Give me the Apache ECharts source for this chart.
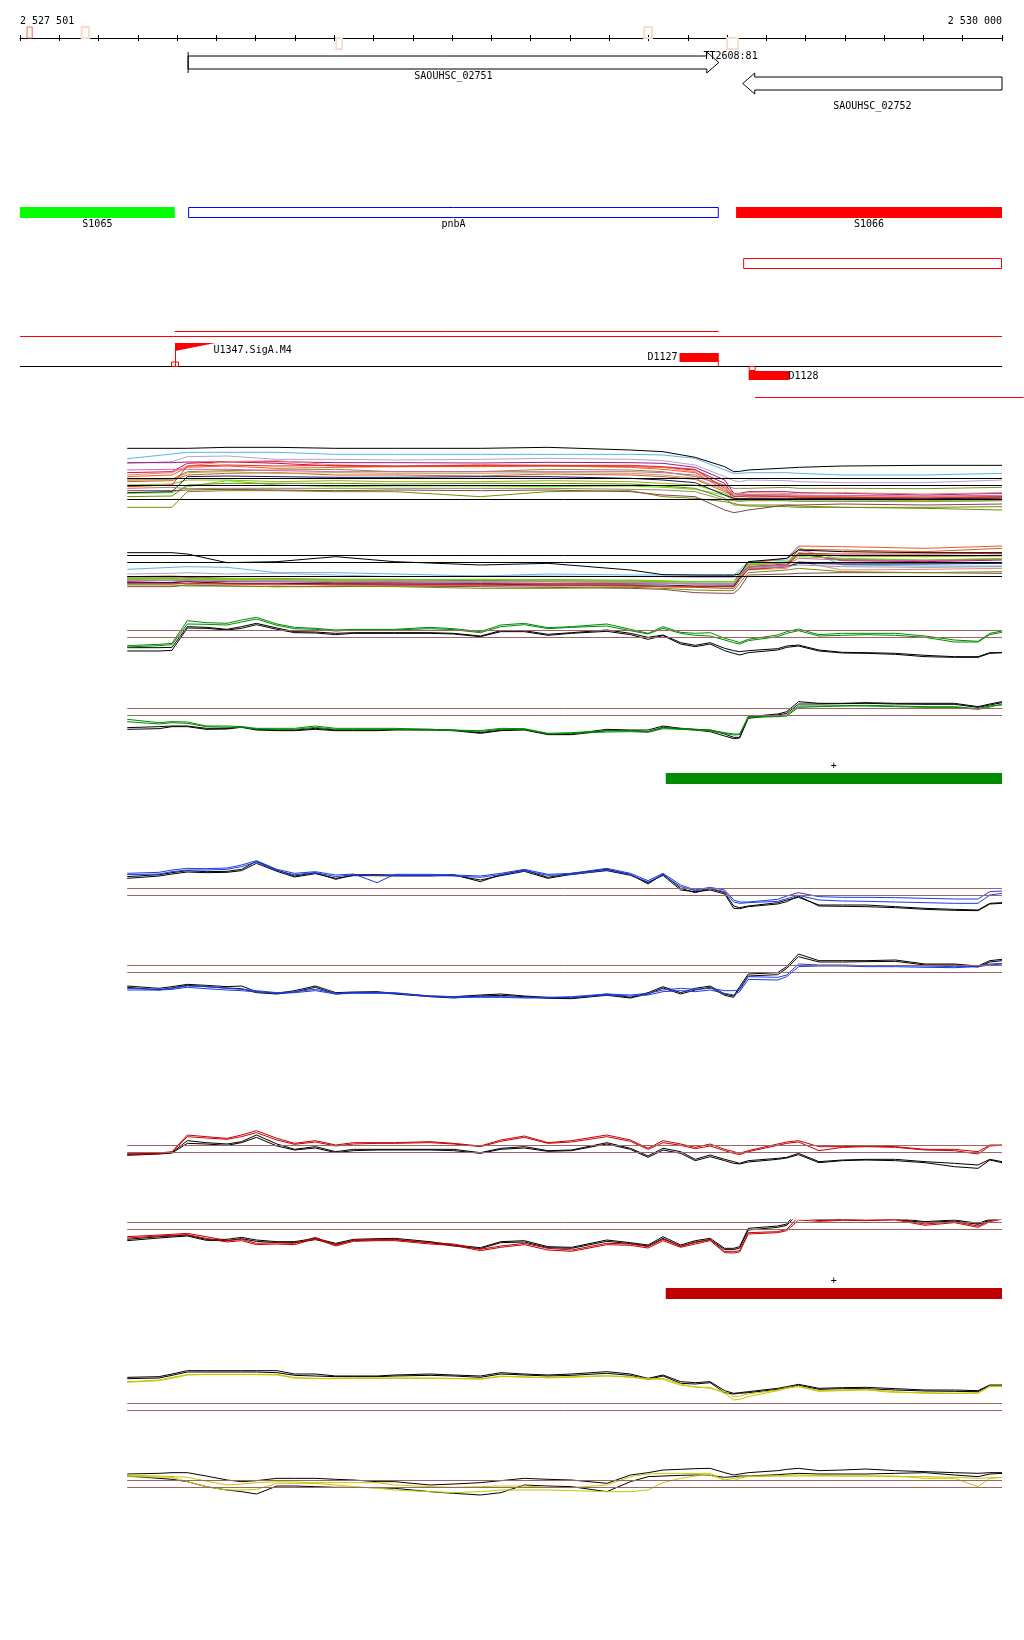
<!DOCTYPE html>
<html><head><meta charset="utf-8">
<script src="https://cdn.jsdelivr.net/npm/echarts/dist/echarts.min.js"></script>
<style>html,body{margin:0;padding:0;background:#fff}#c{width:1024px;height:1640px}</style>
</head><body><div id="c"></div>
<script>
// ---------------- DATA ----------------
const regionStart = 2527500, regionEnd = 2530000;
const rulerLabels = ['2 527 501', '2 530 000'];
const rulerTickStep = 100;
const rulerMarkStart = [2527518, 2527657, 2528305, 2529089, 2529300];
const rulerMarkEnd   = [2527531, 2527676, 2528320, 2529109, 2529328];
const rulerMarkSide  = [1, 1, -1, 1, -1];

const geneNames  = ['SAOUHSC_02751', 'SAOUHSC_02752'];
const geneStart  = [2527928, 2529340];
const geneEnd    = [2529279, 2530000];
const geneStrand = [1, -1];

const termNames = ['TT2608:81'];
const termPos   = [2529240];

const segNames = ['S1065', 'pnbA', 'S1066'];
const segStart = [2527500, 2527928, 2529323];
const segEnd   = [2527894, 2529279, 2530000];

const boxStart = [2529341];
const boxEnd   = [2530000];

const hLineStart = [2527894, 2527500, 2527500, 2529371];
const hLineEnd   = [2529279, 2530000, 2530000, 2530055];

const promoterNames = ['U1347.SigA.M4'];
const promoterPos   = [2527894];

const siteNames  = ['D1127', 'D1128'];
const siteStart  = [2529179, 2529355];
const siteEnd    = [2529279, 2529459];
const siteStrand = [1, -1];

const condStart  = [2529144];
const condEnd    = [2530000];
const condStrand = ['+'];

// sampling positions (bp)
const pos = [2527773, 2527854, 2527887, 2527926, 2527974, 2528027, 2528064, 2528102, 2528154, 2528199,
  2528252, 2528304, 2528349, 2528409, 2528454, 2528544, 2528604, 2528672, 2528724, 2528784,
  2528844, 2528904, 2528994, 2529054, 2529099, 2529137, 2529182, 2529219, 2529257, 2529294,
  2529317, 2529332, 2529354, 2529429, 2529452, 2529482, 2529534, 2529594, 2529654, 2529729,
  2529804, 2529879, 2529939, 2529969, 2530000];
const multiPos = [2527773, 2527887, 2527926, 2528027, 2528154, 2528304, 2528454, 2528672, 2528844, 2529054,
  2529137, 2529219, 2529294, 2529317, 2529332, 2529354, 2529452, 2529482, 2529594, 2529804, 2530000];

// track 1 : all conditions, + strand
const track1 = {
  ltblue:   [-86,-72,-67,-67,-67,-73,-73,-73,-73,-73,-75,-85,-120,-130,-130,-128,-128,-130,-135,-135,-130],
  lavender: [-100,-95,-80,-78,-88,-88,-90,-88,-85,-88,-92,-105,-140,-152,-155,-150,-152,-155,-158,-158,-150],
  purple:   [-98,-98,-96,-96,-95,-98,-98,-99,-97,-98,-100,-112,-150,-190,-190,-185,-185,-188,-190,-195,-190],
  crimson:  [-128,-125,-100,-95,-100,-108,-110,-108,-108,-110,-112,-120,-160,-200,-198,-196,-198,-200,-202,-205,-200],
  salmon:   [-135,-128,-108,-95,-92,-105,-108,-104,-106,-108,-112,-125,-170,-190,-192,-188,-190,-192,-188,-192,-188],
  orange:   [-140,-135,-112,-108,-115,-112,-110,-110,-108,-112,-118,-128,-180,-205,-208,-204,-205,-206,-206,-208,-205],
  olive:    [-150,-148,-125,-122,-120,-118,-125,-125,-118,-120,-125,-140,-165,-175,-175,-175,-172,-175,-175,-176,-172],
  brown:    [-155,-152,-135,-130,-128,-135,-135,-138,-132,-135,-140,-148,-185,-198,-200,-198,-198,-200,-200,-204,-200],
  tan:      [-150,-150,-128,-125,-130,-128,-130,-130,-128,-130,-135,-145,-180,-195,-196,-195,-196,-198,-198,-200,-198],
  ygreen:   [-165,-162,-150,-150,-155,-152,-155,-155,-152,-155,-160,-165,-190,-205,-208,-208,-208,-210,-210,-212,-208],
  green:    [-190,-188,-170,-152,-165,-170,-168,-168,-170,-168,-172,-178,-195,-210,-212,-212,-212,-214,-214,-214,-212],
  dkolive:  [-200,-198,-165,-160,-160,-160,-162,-160,-160,-162,-168,-175,-205,-225,-225,-228,-230,-232,-232,-232,-230],
  olive2:   [-232,-232,-185,-182,-182,-185,-185,-200,-185,-182,-200,-205,-215,-220,-225,-225,-225,-228,-232,-235,-240],
  dkbrown:  [-182,-182,-180,-178,-180,-182,-180,-182,-180,-185,-195,-200,-240,-248,-245,-240,-225,-225,-222,-225,-222],
  navy:     [-188,-185,-140,-138,-140,-142,-142,-140,-140,-145,-150,-158,-195,-205,-206,-205,-205,-205,-206,-206,-204],
  magenta:  [-120,-118,-118,-118,-122,-125,-125,-125,-125,-125,-128,-135,-170,-192,-194,-194,-194,-196,-196,-198,-196],
  red:      [-170,-165,-108,-105,-108,-106,-108,-106,-106,-106,-110,-118,-175,-200,-200,-198,-200,-202,-202,-204,-200],
  graybrown:[-175,-172,-176,-175,-175,-175,-175,-175,-175,-178,-180,-185,-210,-212,-214,-212,-212,-214,-214,-215,-212],
  black:    [-55,-55,-55,-52,-52,-55,-55,-55,-52,-60,-65,-82,-110,-125,-124,-120,-114,-112,-108,-106,-106]
};
const track1Levels = [-145, -166, -208];

// track 2 : all conditions, - strand
const track2 = {
  ltblue:   [-418,-412,-410,-412,-428,-428,-432,-438,-432,-435,-435,-435,-436,-436,-420,-395,-390,-352,-405,-408,-408],
  lavender: [-432,-430,-428,-432,-430,-435,-440,-438,-438,-440,-440,-442,-442,-442,-425,-405,-398,-360,-388,-390,-388],
  purple:   [-445,-445,-442,-448,-448,-450,-450,-452,-450,-452,-455,-455,-455,-455,-435,-410,-402,-370,-392,-395,-390],
  crimson:  [-455,-458,-452,-455,-455,-458,-458,-460,-460,-460,-460,-462,-462,-462,-440,-412,-405,-372,-390,-392,-388],
  salmon:   [-440,-440,-445,-448,-448,-450,-452,-448,-450,-455,-460,-462,-465,-465,-445,-420,-415,-395,-420,-418,-415],
  orange:   [-450,-452,-455,-460,-462,-460,-462,-465,-465,-465,-470,-470,-470,-470,-440,-400,-385,-348,-350,-355,-348],
  olive:    [-440,-438,-440,-445,-445,-448,-448,-450,-450,-452,-455,-455,-455,-455,-430,-405,-398,-372,-378,-380,-375],
  brown:    [-460,-460,-462,-462,-465,-462,-465,-465,-468,-468,-470,-470,-470,-470,-445,-410,-405,-358,-360,-365,-355],
  tan:      [-448,-450,-448,-448,-450,-452,-455,-455,-452,-455,-458,-460,-460,-460,-438,-415,-410,-395,-402,-400,-398],
  ygreen:   [-442,-442,-445,-445,-448,-448,-448,-450,-450,-450,-452,-455,-455,-455,-432,-405,-398,-368,-378,-380,-378],
  green:    [-445,-446,-448,-448,-450,-450,-450,-448,-450,-452,-455,-455,-455,-455,-430,-402,-395,-380,-385,-390,-385],
  navy:     [-458,-458,-455,-460,-460,-462,-462,-462,-465,-465,-465,-468,-468,-468,-445,-418,-410,-400,-402,-402,-400],
  magenta:  [-452,-450,-450,-452,-455,-455,-455,-458,-455,-458,-460,-460,-462,-462,-440,-412,-405,-385,-390,-392,-388],
  dkbrown:  [-470,-470,-465,-468,-470,-470,-468,-470,-472,-475,-478,-488,-490,-490,-475,-435,-432,-430,-428,-428,-430],
  red:      [-462,-462,-460,-462,-462,-465,-465,-465,-465,-468,-470,-472,-475,-475,-450,-418,-410,-370,-372,-372,-370],
  graybl:   [-450,-452,-452,-452,-452,-455,-452,-455,-455,-458,-460,-460,-462,-462,-442,-415,-410,-405,-410,-412,-410],
  olive2:   [-465,-465,-468,-468,-470,-468,-470,-475,-475,-472,-475,-480,-482,-482,-460,-428,-420,-415,-425,-428,-425],
  black:    [-368,-368,-372,-398,-395,-380,-395,-405,-400,-420,-434,-435,-435,-435,-432,-395,-385,-360,-365,-368,-368]
};
const track2Levels = [-376, -397, -440];

// track 3/4 : condition "green"
const t3Black1 = [-143,-143,-142,-80,-82,-88,-80,-70,-84,-95,-96,-100,-98,-98,-98,-98,-100,-108,-92,-92,-103,-98,-90,-100,-112,-105,-128,-136,-128,-145,-152,-155,-152,-146,-138,-135,-150,-157,-158,-160,-166,-170,-170,-158,-158];
const t3Black2 = [-153,-153,-151,-84,-85,-90,-85,-74,-88,-98,-99,-104,-100,-100,-100,-100,-102,-110,-95,-95,-106,-100,-94,-104,-118,-107,-132,-140,-132,-152,-160,-165,-158,-150,-142,-138,-153,-159,-160,-163,-170,-172,-172,-160,-158];
const t3Col1 = [-137,-133,-130,-62,-68,-70,-60,-52,-72,-82,-85,-90,-88,-88,-88,-82,-86,-95,-75,-70,-83,-80,-72,-88,-100,-80,-97,-100,-98,-115,-122,-128,-118,-105,-95,-87,-104,-100,-100,-100,-108,-120,-124,-100,-93];
const t3Col2 = [-141,-137,-134,-72,-73,-75,-66,-57,-76,-86,-88,-93,-90,-90,-90,-86,-89,-98,-80,-74,-86,-82,-78,-92,-102,-85,-100,-106,-108,-120,-128,-132,-122,-110,-100,-92,-108,-106,-104,-106,-112,-126,-126,-104,-97];
const t3Levels = [-90, -112];
const t4Black1 = [-383,-380,-378,-378,-385,-385,-380,-388,-390,-390,-385,-390,-390,-390,-388,-388,-390,-398,-390,-388,-402,-402,-388,-390,-390,-378,-385,-388,-390,-402,-412,-412,-350,-342,-335,-305,-310,-310,-308,-310,-310,-310,-320,-312,-305];
const t4Black2 = [-388,-386,-380,-380,-388,-387,-382,-390,-392,-392,-388,-392,-392,-392,-390,-390,-392,-400,-392,-390,-404,-404,-392,-392,-395,-382,-387,-390,-395,-408,-416,-414,-355,-345,-340,-312,-312,-311,-310,-312,-313,-313,-322,-315,-308];
const t4Col1 = [-358,-368,-365,-366,-378,-378,-380,-385,-385,-385,-378,-385,-385,-385,-385,-388,-390,-392,-385,-386,-400,-398,-392,-392,-395,-383,-385,-388,-390,-398,-402,-402,-350,-348,-345,-318,-318,-317,-316,-318,-320,-320,-326,-318,-315];
const t4Col2 = [-365,-372,-368,-370,-380,-382,-382,-387,-388,-388,-382,-388,-388,-388,-388,-390,-392,-394,-388,-388,-402,-400,-396,-395,-397,-386,-388,-390,-393,-400,-405,-404,-352,-350,-348,-322,-320,-318,-318,-320,-322,-322,-328,-321,-312];
const t4Levels = [-325, -346];

// track 5/6 : condition "blue"
const t5Black1 = [-110,-104,-98,-92,-95,-94,-88,-64,-90,-108,-98,-118,-104,-104,-105,-106,-104,-125,-104,-90,-112,-100,-88,-103,-132,-102,-145,-158,-146,-158,-198,-203,-198,-188,-180,-172,-195,-195,-195,-200,-205,-208,-210,-190,-188];
const t5Black2 = [-115,-108,-102,-96,-98,-97,-92,-70,-94,-111,-101,-115,-107,-107,-108,-108,-106,-120,-107,-94,-115,-103,-92,-106,-128,-106,-150,-155,-150,-162,-205,-206,-200,-192,-185,-168,-198,-199,-200,-203,-208,-211,-212,-192,-190];
const t5Col1 = [-100,-97,-90,-85,-86,-84,-75,-62,-88,-100,-95,-105,-102,-128,-103,-103,-105,-108,-100,-88,-103,-100,-85,-100,-122,-100,-135,-150,-142,-150,-180,-186,-186,-178,-168,-158,-170,-172,-172,-173,-175,-177,-177,-155,-153];
const t5Col2 = [-104,-102,-95,-90,-90,-88,-80,-66,-92,-104,-98,-110,-104,-106,-106,-106,-108,-112,-104,-92,-106,-104,-90,-104,-126,-104,-140,-152,-146,-155,-186,-190,-188,-184,-176,-166,-180,-183,-184,-186,-188,-190,-190,-165,-160];
const t5Levels = [-145, -166];
const t6Black1 = [-438,-445,-440,-433,-436,-440,-438,-455,-460,-452,-438,-458,-456,-455,-460,-468,-470,-465,-462,-468,-472,-474,-462,-472,-458,-440,-458,-445,-438,-462,-468,-440,-402,-398,-380,-342,-362,-362,-362,-360,-372,-372,-378,-362,-358];
const t6Black2 = [-442,-450,-444,-436,-440,-444,-446,-458,-462,-456,-442,-462,-458,-458,-462,-470,-474,-468,-466,-470,-475,-476,-466,-474,-462,-444,-462,-450,-442,-466,-472,-446,-408,-404,-385,-350,-366,-366,-365,-364,-375,-375,-381,-366,-362];
const t6Col1 = [-445,-448,-445,-438,-440,-445,-448,-452,-458,-455,-448,-460,-458,-458,-458,-468,-470,-470,-470,-472,-472,-470,-462,-465,-460,-450,-445,-448,-445,-452,-452,-450,-410,-412,-405,-372,-375,-375,-377,-377,-378,-380,-378,-372,-370];
const t6Col2 = [-450,-450,-448,-442,-446,-450,-452,-456,-460,-458,-452,-462,-460,-460,-460,-470,-472,-472,-472,-474,-474,-472,-465,-468,-465,-455,-452,-455,-450,-460,-465,-455,-418,-420,-410,-380,-378,-378,-380,-380,-382,-383,-380,-375,-372];
const t6Levels = [-376, -397];

// track 7/8 : condition "red"
const t7Black1 = [-103,-100,-98,-62,-68,-72,-65,-45,-72,-88,-80,-95,-88,-88,-88,-88,-88,-98,-85,-80,-92,-90,-68,-85,-108,-85,-95,-118,-105,-118,-125,-130,-122,-115,-112,-100,-125,-120,-118,-118,-125,-130,-135,-118,-125];
const t7Black2 = [-106,-102,-99,-70,-72,-76,-68,-52,-78,-90,-84,-98,-92,-90,-90,-90,-92,-100,-88,-84,-94,-92,-72,-88,-112,-90,-100,-122,-110,-122,-130,-132,-126,-118,-114,-104,-128,-122,-120,-122,-128,-140,-145,-120,-128];
const t7Col1 = [-100,-99,-95,-45,-50,-55,-45,-32,-55,-70,-62,-75,-68,-68,-68,-65,-70,-78,-60,-48,-68,-62,-45,-60,-85,-62,-72,-82,-72,-88,-95,-100,-92,-72,-66,-62,-80,-80,-78,-80,-88,-88,-95,-75,-75];
const t7Col2 = [-103,-101,-97,-50,-54,-58,-50,-38,-60,-73,-66,-78,-72,-70,-70,-68,-72,-80,-64,-52,-70,-66,-50,-64,-88,-68,-76,-86,-78,-92,-100,-104,-95,-76,-70,-66,-92,-82,-80,-82,-90,-92,-102,-78,-76];
const t7Levels = [-75, -97];
const t8Black1 = [-358,-350,-348,-345,-358,-358,-352,-360,-365,-365,-355,-370,-358,-356,-355,-365,-375,-383,-365,-362,-380,-382,-360,-368,-375,-350,-375,-362,-355,-385,-385,-380,-325,-318,-312,-270,-298,-295,-292,-295,-305,-300,-310,-298,-290];
const t8Black2 = [-362,-354,-351,-348,-361,-362,-356,-364,-368,-368,-359,-373,-361,-360,-359,-368,-378,-386,-368,-366,-383,-385,-364,-371,-378,-355,-379,-366,-359,-389,-389,-384,-330,-322,-316,-280,-301,-298,-296,-298,-308,-303,-313,-301,-293];
const t8Col1 = [-350,-345,-343,-340,-350,-362,-358,-370,-368,-370,-352,-375,-360,-358,-358,-368,-372,-388,-378,-370,-385,-390,-370,-372,-380,-358,-378,-368,-358,-395,-395,-392,-338,-335,-328,-290,-302,-298,-300,-298,-312,-305,-318,-302,-295];
const t8Col2 = [-354,-348,-346,-344,-355,-366,-362,-374,-372,-374,-356,-378,-364,-362,-362,-372,-376,-392,-382,-374,-390,-394,-374,-376,-384,-362,-382,-372,-362,-398,-399,-396,-342,-338,-332,-300,-304,-301,-302,-300,-316,-308,-322,-305,-298];
const t8Levels = [-307, -328];

// track 9/10 : condition "yellow"
const t9Black1 = [-82,-80,-72,-62,-62,-62,-62,-62,-62,-72,-72,-78,-78,-78,-75,-72,-75,-78,-68,-72,-75,-72,-65,-72,-85,-75,-95,-98,-95,-122,-130,-128,-125,-115,-110,-103,-115,-113,-112,-116,-120,-120,-122,-105,-105];
const t9Black2 = [-86,-84,-76,-66,-66,-66,-66,-66,-68,-76,-78,-80,-80,-80,-78,-76,-78,-82,-72,-75,-78,-76,-70,-76,-88,-78,-100,-102,-98,-128,-132,-130,-128,-118,-114,-106,-118,-116,-116,-120,-123,-124,-125,-107,-107];
const t9Col1 = [-97,-92,-85,-75,-73,-73,-73,-73,-73,-83,-85,-85,-85,-85,-85,-85,-85,-88,-78,-82,-82,-80,-77,-82,-88,-85,-102,-112,-112,-130,-150,-148,-140,-122,-115,-108,-122,-120,-118,-125,-130,-130,-128,-110,-110];
const t9Col2 = [-95,-90,-82,-74,-74,-74,-74,-74,-75,-84,-86,-86,-84,-84,-84,-84,-86,-86,-80,-80,-84,-82,-78,-80,-86,-88,-106,-110,-115,-125,-140,-138,-132,-120,-114,-110,-124,-122,-120,-128,-128,-130,-130,-108,-108];
const t9Levels = [-160, -181];
const t10Black1 = [-372,-370,-368,-368,-378,-390,-395,-392,-385,-385,-385,-388,-390,-395,-395,-405,-402,-398,-392,-385,-388,-390,-400,-375,-368,-360,-358,-356,-355,-368,-375,-372,-368,-362,-358,-355,-362,-360,-357,-362,-365,-368,-370,-368,-368];
const t10Black2 = [-378,-385,-388,-395,-410,-420,-425,-432,-408,-408,-410,-412,-412,-413,-415,-425,-430,-435,-428,-405,-408,-410,-425,-395,-380,-378,-376,-375,-376,-382,-380,-378,-378,-374,-372,-370,-372,-372,-372,-370,-368,-375,-380,-372,-370];
const t10Col1 = [-375,-378,-380,-382,-393,-405,-402,-398,-395,-396,-398,-398,-398,-398,-405,-410,-412,-410,-408,-408,-412,-413,-405,-380,-372,-370,-370,-370,-370,-390,-392,-385,-378,-378,-378,-378,-378,-378,-378,-378,-385,-385,-410,-385,-382];
const t10Col2 = [-380,-381,-382,-395,-410,-420,-420,-418,-400,-400,-400,-405,-410,-415,-420,-425,-428,-425,-420,-420,-420,-422,-425,-425,-420,-398,-385,-378,-375,-390,-385,-382,-380,-378,-376,-375,-376,-378,-378,-380,-380,-382,-385,-383,-383];
const t10Levels = [-391, -412];

// ---------------- LAYOUT / STYLE ----------------
const FONT = '10px "DejaVu Sans Mono", monospace';
const GL = 20, GW = 982;
const L = {
  geneY: {'1': 62, '-1': 83}, geneBody: 6.5, geneHead: 10.5, geneHeadLen: 12,
  geneLabelY: {'1': 76, '-1': 106}, termLabelY: 56,
  segTop: 207, segH: 11, segLabelY: 224,
  boxTop: 258.5, boxH: 10,
  hLineY: [331.5, 336.5, 366.5, 397.5],
  promTop: 343, baseY: 366,
  siteUpTop: 353, siteDownTop: 371, siteH: 9, siteLabelUp: 357.5, siteLabelDown: 376
};
const segStyle = [
  {fill: '#00ff00', stroke: null},
  {fill: 'none', stroke: '#0000ff'},
  {fill: '#ff0000', stroke: null}
];
const hLineColor = ['#ff0000', '#ff0000', '#000000', '#ff0000'];
const multiColors = {
  ltblue: '#5ab4ee', lavender: '#aea4d6', purple: '#9a1a86', crimson: '#cc1046', salmon: '#f4806c',
  orange: '#f05a28', olive: '#8c8c28', brown: '#c8641e', tan: '#c89a6a', ygreen: '#98b414',
  green: '#50e600', dkolive: '#6a8c14', olive2: '#788c00', dkbrown: '#7c4a4a', navy: '#161650',
  magenta: '#d064a8', red: '#e42828', graybrown: '#a88070', graybl: '#8c9cc0', black: '#000000'
};
const COL = {green: '#008c00', blue: '#1e3ce6', red: '#c80000', yellow: '#c4c800', black: '#000000', thr: '#a06464'};

const trackLayout = [ // grid index = i + 2
  {top: 430, min: -300, max: 0}, {top: 530, min: -600, max: -300},
  {top: 600, min: -300, max: 0}, {top: 700, min: -600, max: -300},
  {top: 840, min: -300, max: 0}, {top: 940, min: -600, max: -300},
  {top: 1120, min: -300, max: 0}, {top: 1220, min: -600, max: -300},
  {top: 1350, min: -300, max: 0}, {top: 1450, min: -600, max: -300}
];
const condLayout = [{top: 768, color: '#008c00'}, {top: 1283, color: '#c00000'}];

// ---------------- BUILD ----------------
const grids = [], xAxes = [], yAxes = [], series = [];
const hiddenX = g => ({gridIndex: g, type: 'value', min: regionStart, max: regionEnd, show: false});
// grid 0 : ruler
grids.push({left: GL, width: GW, top: 38, height: 11, outerBoundsMode: 'none'});
xAxes.push({gridIndex: 0, type: 'value', position: 'top', min: regionStart, max: regionEnd, interval: rulerTickStep,
  axisLine: {show: true, onZero: false, lineStyle: {color: '#000', width: 1}},
  axisTick: {show: true, length: 3, lineStyle: {color: '#000', width: 1}},
  axisLabel: {show: true, interval: 0, margin: 12, color: '#000', fontFamily: 'DejaVu Sans Mono', fontSize: 10,
    showMinLabel: true, showMaxLabel: true, alignMinLabel: 'left', alignMaxLabel: 'right',
    formatter: v => v === regionStart ? rulerLabels[0] : (v === regionEnd ? rulerLabels[1] : '')},
  splitLine: {show: false}});
xAxes.push({gridIndex: 0, type: 'value', position: 'top', min: regionStart, max: regionEnd, interval: rulerTickStep,
  axisLine: {show: false, onZero: false}, axisTick: {show: true, inside: true, length: 3, lineStyle: {color: '#000', width: 1}},
  axisLabel: {show: false}, splitLine: {show: false}});
yAxes.push({gridIndex: 0, type: 'value', min: -1, max: 0, show: false});
// grid 1 : annotation
grids.push({left: GL, width: GW, top: 0, height: 410, outerBoundsMode: 'none'});
xAxes.push(hiddenX(1));
yAxes.push({gridIndex: 1, type: 'value', min: 0, max: 410, inverse: true, show: false});
// grids 2..11 : tracks
trackLayout.forEach((t, i) => {
  const g = i + 2;
  grids.push({left: GL, width: GW, top: t.top, height: 100, outerBoundsMode: 'none'});
  xAxes.push(hiddenX(g));
  yAxes.push({gridIndex: g, type: 'value', min: t.min, max: t.max, show: false});
});
// grids 12,13 : condition bars
condLayout.forEach((c, i) => {
  const g = 12 + i;
  grids.push({left: GL, width: GW, top: c.top, height: 21, outerBoundsMode: 'none'});
  xAxes.push(hiddenX(g));
  yAxes.push({gridIndex: g, type: 'value', min: 0, max: 1, show: false});
});
const xIdx = g => g === 0 ? 0 : g + 1;

function cx(api, bp) { return api.coord([bp, 0])[0]; }
function cy(api, v) { return api.coord([regionStart, v])[1]; }
function txt(x, y, text, align) {
  return {type: 'text', x: x, y: y, style: {text: text, font: FONT, fill: '#000', align: align, textAlign: align,
    verticalAlign: 'middle', textVerticalAlign: 'middle'}};
}
function custom(g, data, renderItem, z) {
  return {type: 'custom', xAxisIndex: xIdx(g), yAxisIndex: g, data: data, renderItem: renderItem,
    silent: true, clip: false, z: z || 5, animation: false};
}

// ruler marks
series.push(custom(0, rulerMarkStart.map((s, i) => [s, rulerMarkEnd[i], i]), (p, api) => {
  const i = api.value(2);
  const x0 = cx(api, api.value(0)), x1 = cx(api, api.value(1));
  const y0 = cy(api, 0), y1 = cy(api, rulerMarkSide[i]);
  const strong = i === 0;
  return {type: 'rect', shape: {x: x0, y: Math.min(y0, y1), width: x1 - x0, height: Math.abs(y1 - y0)},
    style: {fill: 'none', stroke: strong ? '#f2664a' : '#f9dccf', lineWidth: strong ? 1 : 2}};
}, 1));

// genes
series.push(custom(1, geneStart.map((s, i) => [s, geneEnd[i], i]), (p, api) => {
  const i = api.value(2), st = geneStrand[i];
  const x0 = cx(api, api.value(0)), x1 = cx(api, api.value(1));
  const yc = cy(api, L.geneY[String(st)]) + 0.5;
  const b = L.geneBody, h = L.geneHead, hl = L.geneHeadLen;
  const ch = [];
  let pts;
  if (st > 0) {
    const xb = x1 - hl;
    pts = [[x0, yc - b], [xb, yc - b], [xb, yc - h], [x1, yc], [xb, yc + h], [xb, yc + b], [x0, yc + b]];
    if (api.value(0) > regionStart) ch.push({type: 'line', shape: {x1: x0, y1: yc - h, x2: x0, y2: yc + h}, style: {stroke: '#000', lineWidth: 1}});
  } else {
    const xb = x0 + hl;
    pts = [[x1, yc - b], [xb, yc - b], [xb, yc - h], [x0, yc], [xb, yc + h], [xb, yc + b], [x1, yc + b]];
    if (api.value(1) < regionEnd) ch.push({type: 'line', shape: {x1: x1, y1: yc - h, x2: x1, y2: yc + h}, style: {stroke: '#000', lineWidth: 1}});
  }
  ch.unshift({type: 'polygon', shape: {points: pts}, style: {fill: '#fff', stroke: '#000', lineWidth: 1}});
  ch.push(txt((x0 + x1) / 2, cy(api, L.geneLabelY[String(st)]), geneNames[i], 'center'));
  return {type: 'group', children: ch};
}));

// terminator label
series.push(custom(1, termPos.map((s, i) => [s, i]), (p, api) => {
  const i = api.value(1);
  return txt(cx(api, api.value(0)), cy(api, L.termLabelY), termNames[i], 'left');
}, 6));

// segments (transcription units)
series.push(custom(1, segStart.map((s, i) => [s, segEnd[i], i]), (p, api) => {
  const i = api.value(2), x0 = cx(api, api.value(0)), x1 = cx(api, api.value(1));
  const y = cy(api, L.segTop), st = segStyle[i];
  const r = st.stroke
    ? {type: 'rect', shape: {x: x0 + 0.5, y: y + 0.5, width: x1 - x0 - 1, height: L.segH - 1}, style: {fill: 'none', stroke: st.stroke, lineWidth: 1}}
    : {type: 'rect', shape: {x: x0, y: y, width: x1 - x0, height: L.segH}, style: {fill: st.fill}};
  return {type: 'group', children: [r, txt((x0 + x1) / 2, cy(api, L.segLabelY), segNames[i], 'center')]};
}));

// outlined box
series.push(custom(1, boxStart.map((s, i) => [s, boxEnd[i], i]), (p, api) => {
  const x0 = cx(api, api.value(0)), x1 = cx(api, api.value(1));
  return {type: 'rect', shape: {x: x0 + 0.5, y: cy(api, L.boxTop), width: x1 - x0 - 1, height: L.boxH},
    style: {fill: 'none', stroke: '#ff0000', lineWidth: 1}};
}));

// horizontal lines
series.push(custom(1, hLineStart.map((s, i) => [s, hLineEnd[i], i]), (p, api) => {
  const i = api.value(2), x0 = cx(api, api.value(0)), x1 = cx(api, api.value(1));
  const y = cy(api, L.hLineY[i]);
  return {type: 'line', shape: {x1: x0, y1: y, x2: x1, y2: y}, style: {stroke: hLineColor[i], lineWidth: 1}};
}, 3));

// promoter
series.push(custom(1, promoterPos.map((s, i) => [s, i]), (p, api) => {
  const i = api.value(1), x = Math.round(cx(api, api.value(0))) + 0.5;
  const yt = cy(api, L.promTop), yb = cy(api, L.baseY);
  return {type: 'group', children: [
    {type: 'line', shape: {x1: x, y1: yt, x2: x, y2: yb}, style: {stroke: '#ff0000', lineWidth: 1}},
    {type: 'polygon', shape: {points: [[x - 0.5, yt], [x + 40, yt], [x - 0.5, yt + 8]]}, style: {fill: '#ff0000'}},
    {type: 'rect', shape: {x: x - 4, y: yb - 4, width: 7, height: 4.5}, style: {fill: 'none', stroke: '#ff0000', lineWidth: 1}},
    txt(x + 38, cy(api, 350), promoterNames[i], 'left')
  ]};
}, 6));

// sites
series.push(custom(1, siteStart.map((s, i) => [s, siteEnd[i], i]), (p, api) => {
  const i = api.value(2), x0 = cx(api, api.value(0)), x1 = cx(api, api.value(1));
  const ch = [];
  if (siteStrand[i] > 0) {
    const y = cy(api, L.siteUpTop);
    ch.push({type: 'rect', shape: {x: x0, y: y, width: x1 - x0, height: L.siteH}, style: {fill: '#ff0000'}});
    ch.push({type: 'line', shape: {x1: x1 - 0.5, y1: y + L.siteH, x2: x1 - 0.5, y2: cy(api, L.baseY)}, style: {stroke: '#ff0000', lineWidth: 1}});
    ch.push(txt(x0 - 2, cy(api, L.siteLabelUp), siteNames[i], 'right'));
  } else {
    const y = cy(api, L.siteDownTop);
    ch.push({type: 'rect', shape: {x: x0, y: y, width: x1 - x0, height: L.siteH}, style: {fill: '#ff0000'}});
    ch.push({type: 'rect', shape: {x: x0 + 0.5, y: cy(api, L.baseY) + 0.5, width: 6, height: 4}, style: {fill: 'none', stroke: '#ff0000', lineWidth: 1}});
    ch.push(txt(x1 - 1, cy(api, L.siteLabelDown), siteNames[i], 'left'));
  }
  return {type: 'group', children: ch};
}, 6));

// condition bars
condLayout.forEach((c, k) => {
  series.push(custom(12 + k, condStart.map((s, i) => [s, condEnd[i], i]), (p, api) => {
    const i = api.value(2), x0 = cx(api, api.value(0)), x1 = cx(api, api.value(1));
    const yc = cy(api, 0.5);
    return {type: 'group', children: [
      {type: 'rect', shape: {x: x0, y: yc - 5.5, width: x1 - x0, height: 11}, style: {fill: c.color}},
      txt((x0 + x1) / 2, yc - 12.5, condStrand[i], 'center')
    ]};
  }));
});

// line tracks
function lineS(g, positions, values, color, z, levels, levelColor) {
  const s = {type: 'line', xAxisIndex: xIdx(g), yAxisIndex: g, data: positions.map((p, i) => [p, values[i]]),
    showSymbol: false, symbol: 'none', silent: true, animation: false, z: z,
    lineStyle: {width: 1, color: color}, itemStyle: {color: color}, emphasis: {disabled: true}};
  if (levels) {
    s.markLine = {silent: true, symbol: ['none', 'none'], animation: false, label: {show: false},
      lineStyle: {color: levelColor, width: 1, type: 'solid'}, emphasis: {disabled: true},
      data: levels.map(v => [{coord: [positions[0], v]}, {coord: [positions[positions.length - 1], v]}])};
  }
  return s;
}
function multiTrack(g, tr, levels) {
  Object.keys(tr).forEach(k => {
    if (k === 'black') return;
    series.push(lineS(g, multiPos, tr[k], multiColors[k], 2));
  });
  series.push(lineS(g, multiPos, tr.black, '#000', 3, levels, '#000'));
}
multiTrack(2, track1, track1Levels);
multiTrack(3, track2, track2Levels);

const pairTracks = [
  [4, t3Black1, t3Black2, t3Col1, t3Col2, COL.green, t3Levels],
  [5, t4Black1, t4Black2, t4Col1, t4Col2, COL.green, t4Levels],
  [6, t5Black1, t5Black2, t5Col1, t5Col2, COL.blue, t5Levels],
  [7, t6Black1, t6Black2, t6Col1, t6Col2, COL.blue, t6Levels],
  [8, t7Black1, t7Black2, t7Col1, t7Col2, COL.red, t7Levels],
  [9, t8Black1, t8Black2, t8Col1, t8Col2, COL.red, t8Levels],
  [10, t9Black1, t9Black2, t9Col1, t9Col2, COL.yellow, t9Levels],
  [11, t10Black1, t10Black2, t10Col1, t10Col2, COL.yellow, t10Levels]
];
pairTracks.forEach(([g, k1, k2, c1, c2, col, lv]) => {
  series.push(lineS(g, pos, k1, COL.black, 2, lv, COL.thr));
  series.push(lineS(g, pos, k2, COL.black, 2));
  series.push(lineS(g, pos, c1, col, 3));
  series.push(lineS(g, pos, c2, col, 3));
});

const chart = echarts.init(document.getElementById('c'), null, {renderer: 'canvas', width: 1024, height: 1640});
chart.setOption({
  animation: false,
  backgroundColor: '#ffffff',
  grid: grids, xAxis: xAxes, yAxis: yAxes, series: series
});
</script></body></html>
